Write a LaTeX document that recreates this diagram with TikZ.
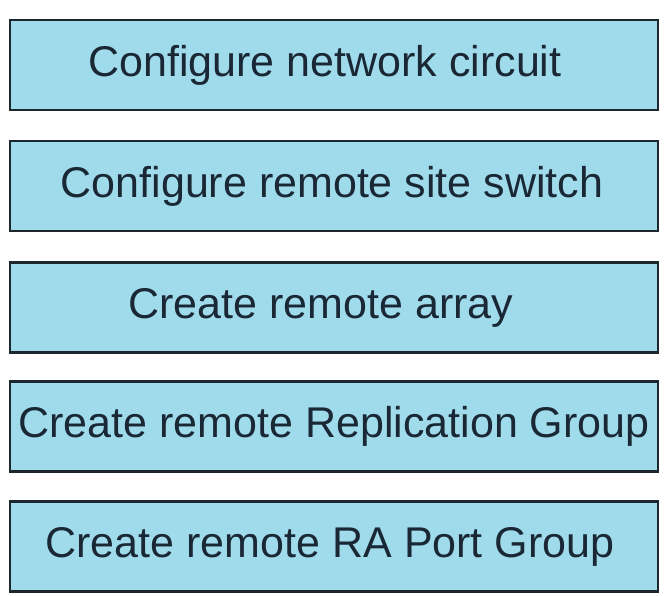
\documentclass[tikz,border=0pt]{standalone}
\usepackage{fontspec}
\setmainfont{Liberation Sans}
\definecolor{boxfill}{RGB}{160,219,235}
\definecolor{boxline}{RGB}{28,40,46}
\definecolor{boxtext}{RGB}{26,40,54}
\tikzset{
  stepbox/.style={draw=boxline, line width=2.4pt, fill=boxfill,
    minimum width=648pt, minimum height=90pt, inner sep=0pt},
  steptext/.style={text=boxtext, inner sep=0pt, font=\fontsize{43}{48}\selectfont}
}
\begin{document}
\begin{tikzpicture}[x=1pt,y=-1pt]
\useasboundingbox (0,0) rectangle (668,595);
\foreach \n/\y/\dx/\t in {circuit/65/-9/Configure network circuit, switch/186/-2/Configure remote site switch, array/307.5/-13/Create remote array, repgroup/426.5/0/Create remote Replication Group, portgroup/546.5/-4/Create remote RA Port Group} {
  \node[stepbox] (\n) at (334,\y) {};
  \node[steptext] (\n-text) at ([xshift=\dx pt]\n.center) {\t};
}
\end{tikzpicture}
\end{document}
